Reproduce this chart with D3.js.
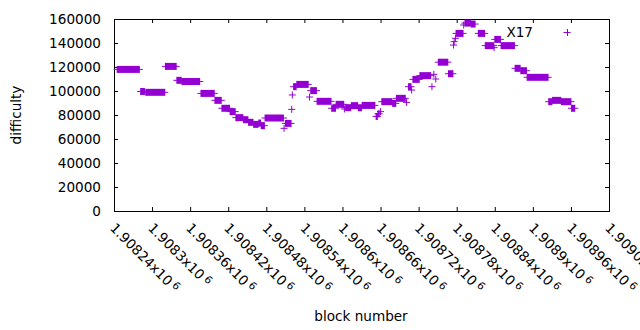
<!DOCTYPE html>
<html><head><meta charset="utf-8">
<script src="https://cdn.jsdelivr.net/npm/d3@7"></script>
<style>body{margin:0;background:#fff} svg{display:block}</style>
</head><body><svg id="c" width="640" height="330"></svg>
<script>
// ---- data (runs of consecutive blocks sharing one difficulty value) ----
const runStart = [1908245,1908282,1908290,1908321,1908339,1908347,1908377,1908399,1908410,1908423,
  1908432,1908444,1908452,1908460,1908468,1908472,1908478,1908508,1908510,1908520,
  1908521,1908523,1908528,1908548,1908550,1908560,1908583,1908590,1908603,1908605,
  1908614,1908625,1908631,1908653,1908656,1908660,1908662,1908679,1908685,1908701,
  1908704,1908709,1908711,1908722,1908741,1908744,1908747,1908751,1908767,1908775,
  1908776,1908778,1908779,1908791,1908793,1908803,1908814,1908825,1908839,1908840,
  1908850,1908872,1908881,1908891,1908925,1908931,1908945,1908961];
const runEnd = [1908280,1908288,1908320,1908338,1908346,1908375,1908398,1908409,1908422,1908431,
  1908443,1908451,1908459,1908467,1908471,1908477,1908507,1908508,1908519,1908520,
  1908521,1908527,1908546,1908548,1908559,1908582,1908589,1908602,1908603,1908613,
  1908624,1908630,1908651,1908655,1908658,1908660,1908678,1908684,1908699,1908701,
  1908708,1908709,1908721,1908739,1908741,1908744,1908747,1908766,1908774,1908775,
  1908776,1908778,1908790,1908791,1908802,1908809,1908824,1908838,1908839,1908849,
  1908871,1908880,1908890,1908924,1908930,1908944,1908960,1908966];
const difficulty = [118000,99600,98900,120500,108900,107900,98000,92200,85600,82800,
  77800,76100,73900,72200,73300,71100,77500,68900,73000,84700,
  96700,103600,105500,95000,100300,91400,85600,88900,85000,86100,
  87800,86000,88000,78800,81000,82800,91100,89700,93900,90500,
  103600,100800,109700,112800,103600,113900,110000,124000,114400,138300,
  141100,143900,148000,155000,156600,155800,148000,137800,136100,143000,
  137800,118900,116900,111400,91100,92200,91100,85600];
const xTickValues = [1908240,1908300,1908360,1908420,1908480,1908540,1908600,1908660,
  1908720,1908780,1908840,1908900,1908960,1909020];
const yTickValues = [0,20000,40000,60000,80000,100000,120000,140000,160000];
const seriesName = "X17", xTitle = "block number", yTitle = "difficulty";

const FONT = '"DejaVu Sans", sans-serif', FS = 13.6, COLOR = "#9400d3";
const L = 114, R = 609, T = 19, B = 211;
const svg = d3.select("#c");
const x = d3.scaleLinear().domain([xTickValues[0], xTickValues[xTickValues.length-1]]).range([L, R]);
const y = d3.scaleLinear().domain([0, 160000]).range([B, T]);

function styleAxis(g){ g.attr("font-family", FONT).attr("font-size", FS); g.select(".domain").remove(); }

// left axis with labels
svg.append("g").attr("transform", `translate(${L},0)`)
  .call(d3.axisLeft(y).tickValues(yTickValues).tickSize(-4).tickSizeOuter(0).tickPadding(13).tickFormat(d3.format("d")))
  .call(styleAxis).selectAll("text").attr("fill", "#000");
// right mirror
svg.append("g").attr("transform", `translate(${R},0)`)
  .call(d3.axisRight(y).tickValues(yTickValues).tickSize(-4).tickSizeOuter(0).tickFormat(""))
  .call(styleAxis);
// top mirror
svg.append("g").attr("transform", `translate(0,${T})`)
  .call(d3.axisTop(x).tickValues(xTickValues).tickSize(-4).tickSizeOuter(0).tickFormat(""))
  .call(styleAxis);
// bottom axis
const gb = svg.append("g").attr("transform", `translate(0,${B})`)
  .call(d3.axisBottom(x).tickValues(xTickValues).tickSize(-4).tickSizeOuter(0).tickFormat(""))
  .call(styleAxis);
gb.selectAll(".tick").each(function(d){
  const t = d3.select(this).append("text")
    .attr("transform", "translate(-2,14.5) rotate(45)")
    .attr("text-anchor", "start").attr("dy", "0.35em").attr("fill", "#000")
    .attr("font-family", FONT).attr("font-size", FS);
  t.append("tspan").text(String(+(d/1e6).toFixed(5)) + "x10");
  t.append("tspan").attr("dx", 3).attr("dy", "-0.35em").attr("font-size", 10.5).text("6");
});

// frame
svg.append("rect").attr("x", L+0.5).attr("y", T+0.5).attr("width", R-L).attr("height", B-T)
  .attr("fill", "none").attr("stroke", "#000").attr("stroke-width", 1);

// points: runs of '+' markers
const runs = runStart.map((s,i)=>({s, e: runEnd[i], v: difficulty[i]}));
const P = 3.5;
const gp = svg.append("g");
gp.selectAll("rect.run").data(runs).join("rect").attr("class","run")
  .attr("x", d => x(d.s) - 0.5).attr("width", d => x(d.e) - x(d.s) + 1)
  .attr("y", d => y(d.v) - P).attr("height", 2*P).attr("fill", COLOR);
gp.selectAll("line.arm").data(runs).join("line").attr("class","arm")
  .attr("x1", d => x(d.s) - P).attr("x2", d => x(d.e) + P)
  .attr("y1", d => y(d.v)).attr("y2", d => y(d.v))
  .attr("stroke", COLOR).attr("stroke-width", 1);

// legend
svg.append("text").attr("x", 533).attr("y", 37).attr("text-anchor", "end")
  .attr("font-family", FONT).attr("font-size", FS).text(seriesName);
const lg = svg.append("g").attr("stroke", COLOR).attr("stroke-width", 1);
lg.append("line").attr("x1", 567-P).attr("x2", 567+P).attr("y1", 32.5).attr("y2", 32.5);
lg.append("line").attr("x1", 567.5).attr("x2", 567.5).attr("y1", 32.5-P).attr("y2", 32.5+P);

// axis titles
svg.append("text").attr("x", 361).attr("y", 321).attr("text-anchor", "middle")
  .attr("font-family", FONT).attr("font-size", FS).text(xTitle);
svg.append("text").attr("transform", "translate(21,115) rotate(-90)").attr("text-anchor", "middle")
  .attr("font-family", FONT).attr("font-size", FS).text(yTitle);
</script></body></html>
